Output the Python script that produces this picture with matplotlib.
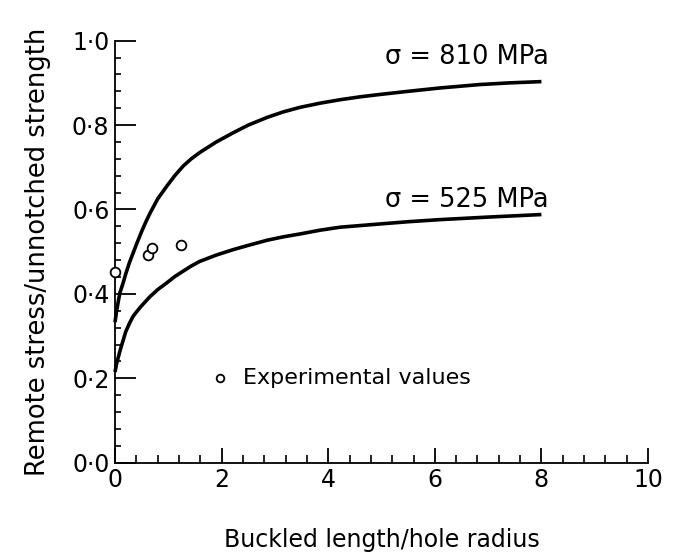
import matplotlib
matplotlib.use("Agg")
import matplotlib.pyplot as plt
from matplotlib.ticker import MultipleLocator, FixedLocator

plt.rcParams['font.family'] = ['DejaVu Sans']

# Predicted curves for two unnotched strengths
x_810 = [0.0, 0.03, 0.09, 0.15, 0.2, 0.27, 0.34, 0.42, 0.5, 0.58, 0.66, 0.8, 0.97,
         1.12, 1.28, 1.43, 1.59, 1.9, 2.22, 2.5, 2.85, 3.15, 3.47, 3.85, 4.22, 4.6,
         5.0, 5.5, 6.1, 6.84, 7.4, 8.0]
y_810 = [0.333, 0.36, 0.402, 0.425, 0.447, 0.474, 0.497, 0.523, 0.548, 0.571, 0.592,
         0.625, 0.655, 0.68, 0.703, 0.72, 0.735, 0.76, 0.782, 0.8, 0.818, 0.831, 0.842,
         0.852, 0.860, 0.867, 0.873, 0.88, 0.888, 0.896, 0.9, 0.903]

x_525 = [0.0, 0.03, 0.1, 0.2, 0.27, 0.34, 0.42, 0.5, 0.66, 0.8, 0.97, 1.12, 1.28,
         1.43, 1.59, 1.9, 2.22, 2.5, 2.85, 3.15, 3.47, 3.85, 4.22, 5.0, 5.5, 6.1,
         7.0, 8.0]
y_525 = [0.215, 0.235, 0.268, 0.31, 0.33, 0.347, 0.36, 0.372, 0.394, 0.41, 0.426,
         0.441, 0.454, 0.466, 0.477, 0.492, 0.505, 0.515, 0.527, 0.535, 0.542, 0.551,
         0.558, 0.566, 0.571, 0.576, 0.582, 0.588]

# Test results
x_exp = [0.0, 0.61, 0.70, 1.24]
y_exp = [0.453, 0.493, 0.509, 0.517]

x_ticks = [0, 2, 4, 6, 8, 10]
x_tick_labels = ["0", "2", "4", "6", "8", "10"]
y_ticks = [0.0, 0.2, 0.4, 0.6, 0.8, 1.0]
y_tick_labels = ["0\u00b70", "0\u00b72", "0\u00b74", "0\u00b76", "0\u00b78", "1\u00b70"]

fig = plt.figure(figsize=(6.73, 5.58), dpi=100)
ax = fig.add_axes([0.1709, 0.1708, 0.792, 0.7563])

lw = 2.6
ax.plot(x_810, y_810, color="black", lw=lw, solid_capstyle="butt",
        solid_joinstyle="round", clip_on=False)
ax.plot(x_525, y_525, color="black", lw=lw, solid_capstyle="butt",
        solid_joinstyle="round", clip_on=False)
ax.plot(x_exp, y_exp, linestyle="none", marker="o", markersize=7,
        markerfacecolor="white", markeredgecolor="black", markeredgewidth=1.3,
        clip_on=False, zorder=5)

ax.set_xlim(0, 10)
ax.set_ylim(0, 1.0)

for side in ("top", "right"):
    ax.spines[side].set_visible(False)
for side in ("left", "bottom"):
    ax.spines[side].set_linewidth(1.3)

ax.xaxis.set_major_locator(FixedLocator(x_ticks))
ax.set_xticklabels(x_tick_labels)
ax.xaxis.set_minor_locator(MultipleLocator(0.4))
ax.yaxis.set_major_locator(FixedLocator(y_ticks))
ax.set_yticklabels(y_tick_labels)
ax.yaxis.set_minor_locator(MultipleLocator(0.04))

ax.tick_params(axis="x", which="major", direction="in", length=11, width=1.3,
               labelsize=17, pad=4)
ax.tick_params(axis="x", which="minor", direction="in", length=5.5, width=1.2)
ax.tick_params(axis="y", which="major", direction="in", length=15, width=1.3,
               labelsize=17, pad=4)
ax.tick_params(axis="y", which="minor", direction="in", length=4.5, width=1.2)

ax.set_xlabel("Buckled length/hole radius", fontsize=17, labelpad=26)
ax.set_ylabel("Remote stress/unnotched strength", fontsize=18.5, labelpad=15)

ax.text(5.07, 0.962, "\u03c3 = 810 MPa", fontsize=18.5, ha="left", va="center")
ax.text(5.07, 0.622, "\u03c3 = 525 MPa", fontsize=18.5, ha="left", va="center")

ax.plot([1.97], [0.2], linestyle="none", marker="o", markersize=5.5,
        markerfacecolor="white", markeredgecolor="black", markeredgewidth=1.3)
ax.text(2.4, 0.2, "Experimental values", fontsize=16, ha="left", va="center")

fig.savefig("out.png", dpi=100)
